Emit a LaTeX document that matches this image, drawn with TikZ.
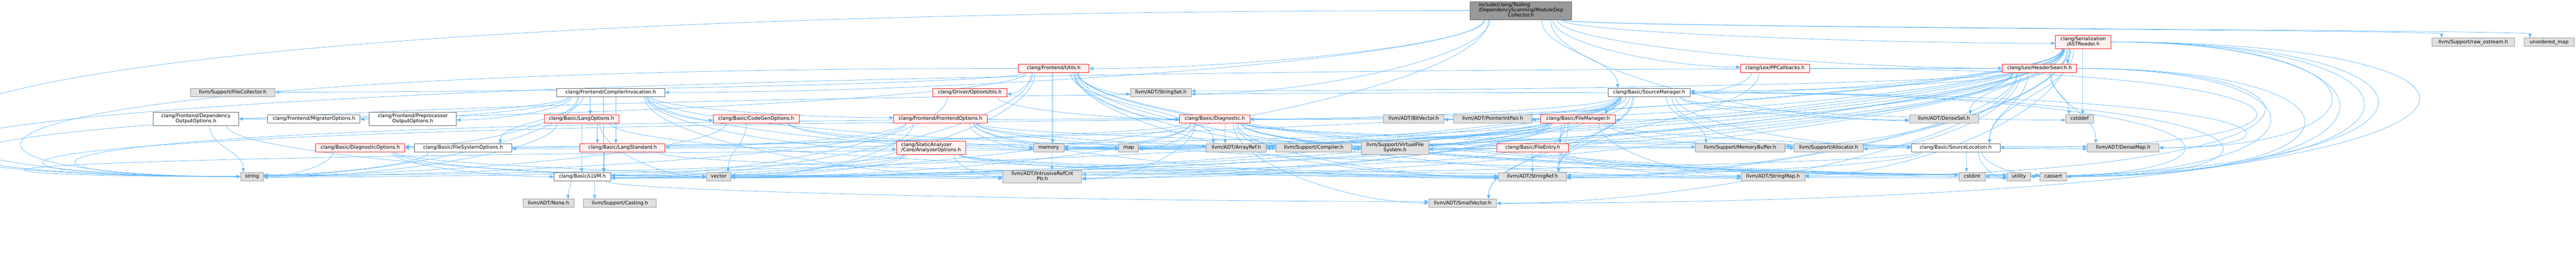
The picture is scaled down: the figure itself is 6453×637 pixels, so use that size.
\documentclass[tikz,border=0pt]{standalone}
\usepackage{fontspec}
\setmainfont{DejaVu Sans}
\usetikzlibrary{arrows.meta,calc}
\definecolor{edgec}{RGB}{99,184,255}
\definecolor{gfill}{RGB}{224,224,224}
\definecolor{gborder}{RGB}{153,153,153}
\definecolor{wborder}{RGB}{102,102,102}
\definecolor{rfill}{RGB}{255,240,240}
\definecolor{rborder}{RGB}{255,30,30}
\definecolor{rootfill}{RGB}{153,153,153}
\pgfdeclarelayer{bg}
\pgfsetlayers{bg,main}
\tikzset{
  box/.style={draw, inner sep=0pt, font=\fontsize{12.3}{12.2}\selectfont, line width=1.1pt, text height=9.3pt, text depth=2.9pt},
  multi/.style={text height={}, text depth={}},
  gn/.style={box, fill=gfill, draw=gborder},
  wn/.style={box, fill=white, draw=wborder},
  rn/.style={box, fill=rfill, draw=rborder},
  rootn/.style={box, fill=rootfill, draw=wborder},
  edge/.style={draw=edgec, line width=0.95pt, -{Triangle[length=10pt,width=8pt]}},
}
\newcommand\twol[2]{\begin{tabular}{@{}l@{}}#1\\\multicolumn{1}{@{}c@{}}{#2}\end{tabular}}
\newcommand\threel[3]{\begin{tabular}{@{}l@{}}#1\\#2\\\multicolumn{1}{@{}c@{}}{#3}\end{tabular}}
% edge from #2 (bottom) to #3 (top or side); #1: 0 auto, 1 top, 2 side
\newcommand\Ed[3][0]{%
  \pgfpointanchor{#2}{south}\pgfgetlastxy{\eSx}{\eSy}%
  \pgfpointanchor{#2}{south east}\pgfgetlastxy{\eSex}{\eSey}%
  \pgfpointanchor{#3}{north}\pgfgetlastxy{\eTx}{\eTy}%
  \pgfpointanchor{#3}{north east}\pgfgetlastxy{\eTex}{\eTey}%
  \pgfpointanchor{#3}{east}\pgfgetlastxy{\eEx}{\eEy}%
  \pgfmathsetmacro\eShw{(\eSex)-(\eSx)}%
  \pgfmathsetmacro\eThw{(\eTex)-(\eTx)}%
  \pgfmathsetmacro\eDx{(\eTx)-(\eSx)}%
  \pgfmathsetmacro\eDy{(\eSy)-(\eTy)}%
  \pgfmathsetmacro\eFs{0.5+0.42*(\eDx)/(abs(\eDx)+2*(\eDy)+1)}%
  \pgfmathsetmacro\eX{(\eSx)+(2*(\eFs)-1)*(\eShw)}%
  \pgfmathsetmacro\eY{(\eSy)}%
  \pgfmathtruncatemacro\eSide{ifthenelse(abs(\eDx)-(\eThw)>2.2*(\eDy),1,0)}%
  \ifnum#1=1 \def\eSide{0}\fi
  \ifnum#1=2 \def\eSide{1}\fi
  \ifnum\eSide=1
    \pgfmathsetmacro\eFy{0.3+0.4*mod(round(abs(\eX)),37)/37}%
    \pgfmathsetmacro\eHh{(\eTy)-(\eEy)}%
    \pgfmathsetmacro\eEndY{(\eTy)-2*(\eFy)*(\eHh)}%
    \pgfmathsetmacro\eAy{(\eY)-0.5*((\eY)-(\eEndY))}%
    \ifdim\eDx pt>0pt
      \pgfmathsetmacro\eEndX{(\eTx)-(\eThw)}%
      \pgfmathsetmacro\eBx{(\eEndX)-0.4*((\eEndX)-(\eX))}%
      \draw[edge] ($(#2.south west)!\eFs!(#2.south east)$) .. controls (\eX pt,\eAy pt) and (\eBx pt,\eEndY pt) .. ($(#3.north west)!\eFy!(#3.south west)$);%
    \else
      \pgfmathsetmacro\eEndX{(\eTx)+(\eThw)}%
      \pgfmathsetmacro\eBx{(\eEndX)-0.4*((\eEndX)-(\eX))}%
      \draw[edge] ($(#2.south west)!\eFs!(#2.south east)$) .. controls (\eX pt,\eAy pt) and (\eBx pt,\eEndY pt) .. ($(#3.north east)!\eFy!(#3.south east)$);%
    \fi
  \else
    \pgfmathsetmacro\eFt{max(0.12,min(0.88,((\eX)-((\eTx)-(\eThw)))/(2*(\eThw))))}%
    \pgfmathsetmacro\eEndX{(\eTx)-(\eThw)+2*(\eThw)*(\eFt)}%
    \pgfmathsetmacro\eAy{(\eY)-0.45*(\eDy)}%
    \pgfmathsetmacro\eBy{(\eTy)+0.45*(\eDy)}%
    \draw[edge] ($(#2.south west)!\eFs!(#2.south east)$) .. controls (\eX pt,\eAy pt) and (\eEndX pt,\eBy pt) .. ($(#3.north west)!\eFt!(#3.north east)$);%
  \fi
}
% loop round the right: east to east, furthest x = #3
\newcommand\EdR[3]{%
  \pgfpointanchor{#1}{east}\pgfgetlastxy{\lSx}{\lSy}%
  \pgfpointanchor{#2}{east}\pgfgetlastxy{\lTx}{\lTy}%
  \pgfmathsetmacro\lC{4/3*#3-((\lSx)+(\lTx))/6}%
  \draw[edge] (#1.east) .. controls (\lC pt,\lSy) and (\lC pt,\lTy) .. (#2.east);%
}
% loop round the left: west to west, leftmost x = #3
\newcommand\EdL[3]{%
  \pgfpointanchor{#1}{west}\pgfgetlastxy{\lSx}{\lSy}%
  \pgfpointanchor{#2}{west}\pgfgetlastxy{\lTx}{\lTy}%
  \pgfmathsetmacro\lC{4/3*#3-((\lSx)+(\lTx))/6}%
  \draw[edge] (#1.west) .. controls (\lC pt,\lSy) and (\lC pt,\lTy) .. (#2.west);%
}
\begin{document}
\begin{tikzpicture}[x=1pt,y=-1pt]
\useasboundingbox (0,0) rectangle (6453,637);
% ---------- nodes ----------
\node[rootn,multi,minimum width=254pt,minimum height=45pt] (R) at (3810,26.5) {\threel{include/clang/Tooling}{/DependencyScanning/ModuleDep}{Collector.h}};
\node[rn,multi,minimum width=139pt,minimum height=34pt] (AR) at (5218.5,105) {\twol{clang/Serialization}{/ASTReader.h}};
\node[gn,minimum width=207pt,minimum height=21pt] (RO) at (6195.5,105.5) {llvm/Support/raw\_ostream.h};
\node[gn,minimum width=125pt,minimum height=21pt] (UM) at (6385.5,105.5) {unordered\_map};
\node[rn,minimum width=177pt,minimum height=21pt] (U) at (2639.5,171) {clang/Frontend/Utils.h};
\node[rn,minimum width=173pt,minimum height=21pt] (PP) at (4446.5,171) {clang/Lex/PPCallbacks.h};
\node[rn,minimum width=186pt,minimum height=21pt] (HS) at (5109,171) {clang/Lex/HeaderSearch.h};
\node[gn,minimum width=212pt,minimum height=21pt] (FC) at (583,231.5) {llvm/Support/FileCollector.h};
\node[wn,minimum width=270pt,minimum height=21pt] (CI) at (1530,231.5) {clang/Frontend/CompilerInvocation.h};
\node[rn,minimum width=185pt,minimum height=21pt] (OU) at (2429.5,231.5) {clang/Driver/OptionUtils.h};
\node[gn,minimum width=152pt,minimum height=21pt] (SS) at (2908,231.5) {llvm/ADT/StringSet.h};
\node[wn,minimum width=206pt,minimum height=21pt] (SM) at (4131,231.5) {clang/Basic/SourceManager.h};
\node[wn,multi,minimum width=214pt,minimum height=33pt] (DOO) at (491,297.5) {\twol{clang/Frontend/Dependency}{OutputOptions.h}};
\node[wn,minimum width=231pt,minimum height=21pt] (MO) at (786.5,297.5) {clang/Frontend/MigratorOptions.h};
\node[wn,multi,minimum width=218pt,minimum height=33pt] (POO) at (1034,297.5) {\twol{clang/Frontend/Preprocessor}{OutputOptions.h}};
\node[rn,minimum width=187pt,minimum height=21pt] (LO) at (1456.5,297.5) {clang/Basic/LangOptions.h};
\node[rn,minimum width=215pt,minimum height=21pt] (CG) at (1894.5,297.5) {clang/Basic/CodeGenOptions.h};
\node[rn,minimum width=234pt,minimum height=21pt] (FO) at (2356,297.5) {clang/Frontend/FrontendOptions.h};
\node[rn,minimum width=176pt,minimum height=21pt] (D) at (3043,297.5) {clang/Basic/Diagnostic.h};
\node[gn,minimum width=151pt,minimum height=21pt] (BV) at (3541.5,297.5) {llvm/ADT/BitVector.h};
\node[gn,minimum width=196pt,minimum height=21pt] (PIP) at (3739,297.5) {llvm/ADT/PointerIntPair.h};
\node[rn,minimum width=186pt,minimum height=21pt] (FM) at (3953,297.5) {clang/Basic/FileManager.h};
\node[gn,minimum width=173pt,minimum height=21pt] (DS) at (4869.5,297.5) {llvm/ADT/DenseSet.h};
\node[gn,minimum width=69pt,minimum height=21pt] (CDEF) at (5209.5,297.5) {cstddef};
\node[rn,minimum width=223pt,minimum height=21pt] (DO) at (902.5,369.5) {clang/Basic/DiagnosticOptions.h};
\node[wn,minimum width=244pt,minimum height=21pt] (FSO) at (1160,369.5) {clang/Basic/FileSystemOptions.h};
\node[rn,minimum width=213pt,minimum height=21pt] (LS) at (1559.5,369.5) {clang/Basic/LangStandard.h};
\node[rn,multi,minimum width=173pt,minimum height=33pt] (AO) at (2332.5,369.5) {\twol{clang/StaticAnalyzer}{/Core/AnalyzerOptions.h}};
\node[gn,minimum width=76pt,minimum height=21pt] (MEM) at (2627,369.5) {memory};
\node[gn,minimum width=49pt,minimum height=21pt] (MAP) at (2827.5,369.5) {map};
\node[gn,minimum width=150pt,minimum height=21pt] (AREF) at (3097,369.5) {llvm/ADT/ArrayRef.h};
\node[gn,minimum width=190pt,minimum height=21pt] (CMP) at (3291,369.5) {llvm/Support/Compiler.h};
\node[gn,multi,minimum width=169pt,minimum height=33pt] (VFS) at (3494.5,369.5) {\twol{llvm/Support/VirtualFile}{System.h}};
\node[rn,minimum width=179pt,minimum height=21pt] (FE) at (3839.5,369.5) {clang/Basic/FileEntry.h};
\node[gn,minimum width=224pt,minimum height=21pt] (MB) at (4359,369.5) {llvm/Support/MemoryBuffer.h};
\node[gn,minimum width=173pt,minimum height=21pt] (AL) at (4580.5,369.5) {llvm/Support/Allocator.h};
\node[wn,minimum width=222pt,minimum height=21pt] (SL) at (4899,369.5) {clang/Basic/SourceLocation.h};
\node[gn,minimum width=179pt,minimum height=21pt] (DM) at (5318.5,369.5) {llvm/ADT/DenseMap.h};
\node[gn,minimum width=57pt,minimum height=21pt] (STR) at (631.5,441.5) {string};
\node[wn,minimum width=142pt,minimum height=21pt] (LLVM) at (1459,441.5) {clang/Basic/LLVM.h};
\node[gn,minimum width=61pt,minimum height=21pt] (VEC) at (1800.5,441.5) {vector};
\node[gn,multi,minimum width=198pt,minimum height=32pt] (IRCP) at (2611,442) {\twol{llvm/ADT/IntrusiveRefCnt}{Ptr.h}};
\node[gn,minimum width=170pt,minimum height=21pt] (SR) at (3839,441.5) {llvm/ADT/StringRef.h};
\node[gn,minimum width=159pt,minimum height=21pt] (SMAP) at (4441.5,441.5) {llvm/ADT/StringMap.h};
\node[gn,minimum width=66pt,minimum height=21pt] (CINT) at (4940,441.5) {cstdint};
\node[gn,minimum width=59pt,minimum height=21pt] (UTIL) at (5057.5,441.5) {utility};
\node[gn,minimum width=67pt,minimum height=21pt] (CASS) at (5143.5,441.5) {cassert};
\node[gn,minimum width=128pt,minimum height=20pt] (NONE) at (1374,508) {llvm/ADT/None.h};
\node[gn,minimum width=182pt,minimum height=20pt] (CAST) at (1553,508) {llvm/Support/Casting.h};
\node[gn,minimum width=170pt,minimum height=20pt] (SV) at (3664,508) {llvm/ADT/SmallVector.h};
% ---------- edges ----------
\begin{pgfonlayer}{bg}
% root
\Ed{R}{LLVM}\Ed{R}{SM}\Ed{R}{CI}\Ed{R}{U}\Ed{R}{HS}\Ed{R}{PP}\Ed{R}{AR}\Ed{R}{DS}\Ed{R}{SS}
\Ed[1]{R}{RO}\Ed[1]{R}{UM}
\EdL{R}{STR}{5}
% CompilerInvocation
\Ed{CI}{CG}\Ed{CI}{DO}\Ed{CI}{FSO}\Ed{CI}{LLVM}\Ed{CI}{LO}\Ed{CI}{LS}\Ed{CI}{DOO}\Ed{CI}{FO}
\Ed{CI}{MO}\Ed{CI}{POO}\Ed{CI}{AO}\Ed{CI}{IRCP}\Ed{CI}{AREF}\Ed{CI}{MEM}\Ed{CI}{STR}
% Utils
\Ed{U}{D}\Ed{U}{LLVM}\Ed{U}{OU}\Ed{U}{DOO}\Ed{U}{AREF}\Ed{U}{IRCP}\Ed{U}{SMAP}\Ed{U}{SR}
\Ed{U}{SS}\Ed{U}{FC}\Ed{U}{VFS}\Ed{U}{CINT}\Ed{U}{MEM}\Ed{U}{UTIL}\Ed{U}{VEC}
\EdL{U}{STR}{152}
% OptionUtils
\Ed{OU}{D}\Ed{OU}{LLVM}
% HeaderSearch
\Ed{HS}{SL}\Ed{HS}{SM}\Ed{HS}{AREF}\Ed{HS}{DM}\Ed{HS}{SV}\Ed{HS}{SR}\Ed{HS}{SS}\Ed{HS}{AL}
\Ed{HS}{CDEF}\Ed{HS}{MEM}\Ed{HS}{VEC}
\EdL{HS}{STR}{105}
\EdR{HS}{CASS}{5773}\EdR{HS}{UTIL}{5687}\EdR{HS}{SMAP}{5653}
% PPCallbacks
\Ed{PP}{SM}\Ed{PP}{SR}
\EdR{PP}{SL}{5643}
% ASTReader
\Ed{AR}{HS}\Ed{AR}{D}\Ed{AR}{DO}\Ed{AR}{SL}\Ed{AR}{AREF}\Ed{AR}{BV}\Ed{AR}{DS}\Ed{AR}{IRCP}
\Ed{AR}{SMAP}\Ed{AR}{SR}\Ed{AR}{MB}\Ed{AR}{VFS}\Ed{AR}{CDEF}\Ed{AR}{MEM}\Ed{AR}{STR}\Ed{AR}{VEC}
\Ed{AR}{FM}\Ed{AR}{SM}
\EdR{AR}{SV}{6003}\EdR{AR}{CINT}{5953}\EdR{AR}{UTIL}{5920}\EdR{AR}{CASS}{5860}\EdR{AR}{DM}{5840}
% SourceManager
\Ed{SM}{D}\Ed{SM}{FE}\Ed{SM}{FM}\Ed{SM}{SL}\Ed{SM}{AREF}\Ed{SM}{BV}\Ed{SM}{DS}\Ed{SM}{IRCP}
\Ed{SM}{PIP}\Ed{SM}{SV}\Ed{SM}{SR}\Ed{SM}{AL}\Ed{SM}{CMP}\Ed{SM}{MB}\Ed{SM}{CDEF}\Ed{SM}{MAP}
\Ed{SM}{MEM}\Ed{SM}{VEC}
\EdL{SM}{STR}{127}
\EdR{SM}{DM}{5554}\EdR{SM}{CASS}{5528}\EdR{SM}{UTIL}{5438}
% FileManager
\Ed{FM}{FE}\Ed{FM}{FSO}\Ed{FM}{LLVM}\Ed{FM}{DM}\Ed{FM}{IRCP}\Ed{FM}{SV}\Ed{FM}{SMAP}\Ed{FM}{SR}
\Ed{FM}{AL}\Ed{FM}{VFS}\Ed{FM}{MAP}\Ed{FM}{MEM}
\EdL{FM}{STR}{320}
% FileEntry
\Ed{FE}{LLVM}\Ed{FE}{SMAP}\Ed{FE}{SR}\Ed{FE}{UTIL}
% Diagnostic
\Ed{D}{DO}\Ed{D}{SL}\Ed{D}{AREF}\Ed{D}{DM}\Ed{D}{IRCP}\Ed{D}{SV}\Ed{D}{SR}\Ed{D}{CMP}
\Ed{D}{CASS}\Ed{D}{CINT}\Ed{D}{MAP}\Ed{D}{MEM}\Ed{D}{UTIL}\Ed{D}{VEC}
\EdL{D}{STR}{335}
% DiagnosticOptions
\Ed{DO}{LLVM}\Ed{DO}{IRCP}\Ed{DO}{STR}\Ed{DO}{VEC}
% LangOptions / LangStandard
\Ed{LO}{LLVM}\Ed{LO}{LS}\Ed{LO}{SR}\Ed{LO}{STR}\Ed{LO}{VEC}
\Ed{LS}{LLVM}\Ed{LS}{SR}
% CodeGenOptions
\Ed{CG}{MAP}\Ed{CG}{MEM}\Ed{CG}{STR}\Ed{CG}{VEC}
% FrontendOptions
\Ed{FO}{LS}\Ed{FO}{SR}\Ed{FO}{CMP}\Ed{FO}{MB}\Ed{FO}{CASS}\Ed{FO}{MAP}\Ed{FO}{MEM}\Ed{FO}{STR}\Ed{FO}{VEC}
% AnalyzerOptions
\Ed{AO}{LLVM}\Ed{AO}{IRCP}\Ed{AO}{SMAP}\Ed{AO}{SR}\Ed{AO}{STR}\Ed{AO}{UTIL}\Ed{AO}{VEC}
% small option headers
\Ed{DOO}{STR}\Ed{DOO}{VEC}
\Ed{FSO}{STR}
% SourceLocation
\Ed{SL}{LLVM}\Ed{SL}{SR}\Ed{SL}{CASS}\Ed{SL}{CINT}\Ed{SL}{UTIL}
\EdL{SL}{STR}{350}
% LLVM.h
\Ed{LLVM}{NONE}\Ed{LLVM}{CAST}\Ed{LLVM}{SV}
\end{pgfonlayer}
\end{tikzpicture}
\end{document}
